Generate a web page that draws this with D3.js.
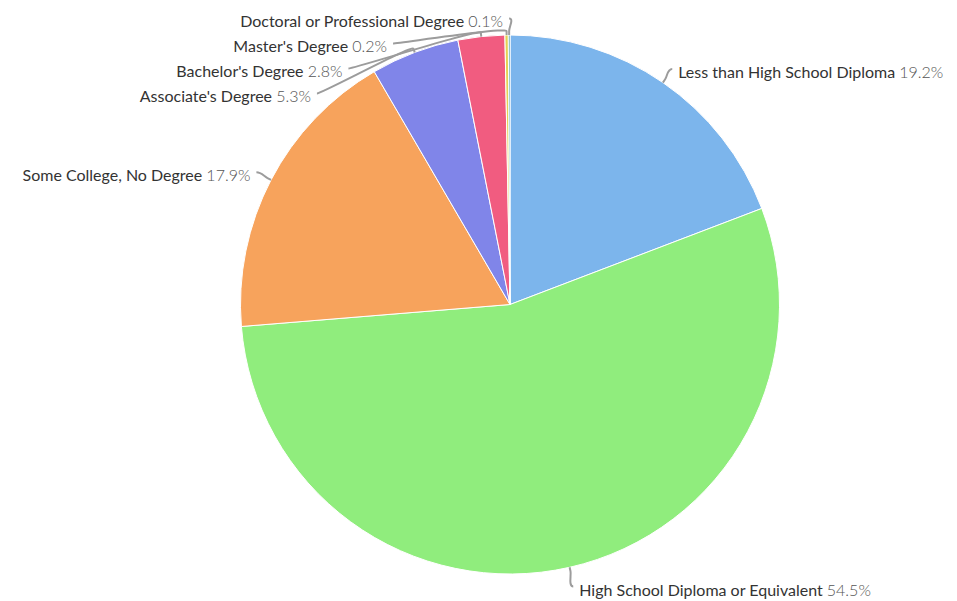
<!DOCTYPE html>
<html>
<head>
<meta charset="utf-8">
<script src="https://cdn.jsdelivr.net/npm/d3@7"></script>
<style>
  body { margin: 0; background: #fff; }
  svg { display: block; }
</style>
</head>
<body>
<div id="chart"></div>
<script>
// categories and values (percent)
var categories = ["Less than High School Diploma", "High School Diploma or Equivalent", "Some College, No Degree",
                  "Associate's Degree", "Bachelor's Degree", "Master's Degree", "Doctoral or Professional Degree"];
var values = [19.2, 54.5, 17.9, 5.3, 2.8, 0.2, 0.1];
var colors = ["#7cb5ec", "#90ed7d", "#f7a35c", "#8085e9", "#f15c80", "#e4d354", "#2b908f"];

// dimensions
var width = 957, height = 601;
var cx = 510, cy = 304.5, radius = 269.5;
var labelDistance = 16.5, labelSpacing = 25, padding = 6;
var R = radius + labelDistance;

var svg = d3.select("#chart")
  .append("svg")
  .attr("width", width)
  .attr("height", height);

var g = svg.append("g")
  .attr("transform", "translate(" + cx + "," + cy + ")");

var data = categories.map(function(c, i){ return {name: c, value: values[i], color: colors[i]}; });

var pie = d3.pie()
  .value(function(d){ return d.value; })
  .sort(null);

var arcs = pie(data);

var arc = d3.arc()
  .innerRadius(0)
  .outerRadius(radius);

// slices
g.selectAll("path.slice")
  .data(arcs)
  .join("path")
  .attr("class", "slice")
  .attr("d", arc)
  .attr("fill", function(d){ return d.data.color; })
  .attr("stroke", "#fff")
  .attr("stroke-width", 1)
  .attr("stroke-linejoin", "round");

// label layout, like highcharts: natural position then push apart on each side
arcs.forEach(function(d){
  d.mid = (d.startAngle + d.endAngle) / 2;
  d.left = d.mid > Math.PI;
  d.naturalY = -R * Math.cos(d.mid);
});

function getX(y, left){
  var dy = Math.max(-R, Math.min(R, y));
  var dx = Math.sqrt(R * R - dy * dy);
  return left ? -dx : dx;
}

[true, false].forEach(function(side){
  var list = arcs.filter(function(d){ return d.left === side; })
    .sort(function(a, b){ return a.naturalY - b.naturalY; });
  var prev = -Infinity;
  list.forEach(function(d){
    d.y = Math.max(d.naturalY, prev + labelSpacing, -R);
    prev = d.y;
  });
  // push back up if off the bottom
  var next = Infinity;
  list.slice().reverse().forEach(function(d){
    d.y = Math.min(d.y, next - labelSpacing, R);
    next = d.y;
  });
  list.forEach(function(d){
    d.x = (d.y <= -R + 0.01 || d.y >= R - 0.01) ? getX(d.naturalY, d.left) : getX(d.y, d.left);
  });
});

// connectors
g.selectAll("path.connector")
  .data(arcs)
  .join("path")
  .attr("class", "connector")
  .attr("fill", "none")
  .attr("stroke", "#9c9c9c")
  .attr("stroke-width", 2)
  .attr("d", function(d){
    var s = Math.sin(d.mid), c = -Math.cos(d.mid);
    var tx = s * radius, ty = c * radius;
    var bx = s * (radius + 4), by = c * (radius + 4);
    var lx = d.x, ly = d.y + (c > 0.5 ? 3 : 0);
    var p = d3.path();
    p.moveTo(lx, ly);
    p.bezierCurveTo(lx + (d.left ? 5 : -5), ly, 2 * bx - tx, 2 * by - ty, bx, by);
    p.lineTo(tx, ty);
    return p.toString();
  });

// labels
var labels = g.selectAll("text.label")
  .data(arcs)
  .join("text")
  .attr("class", "label")
  .attr("x", function(d){ return d.x + (d.left ? -padding : padding); })
  .attr("y", function(d){ return d.y + (-Math.cos(d.mid) > 0.5 ? 7 : 3); })
  .attr("dy", "0.35em")
  .attr("text-anchor", function(d){ return d.left ? "end" : "start"; })
  .style("font-family", "Lato, 'Noto Sans', sans-serif")
  .style("font-size", "16px");

labels.append("tspan")
  .attr("fill", "#333")
  .text(function(d){ return d.data.name + " "; });

labels.append("tspan")
  .attr("fill", "#555")
  .style("font-weight", 300)
  .text(function(d){ return d3.format(".1f")(d.data.value) + "%"; });
</script>
</body>
</html>
